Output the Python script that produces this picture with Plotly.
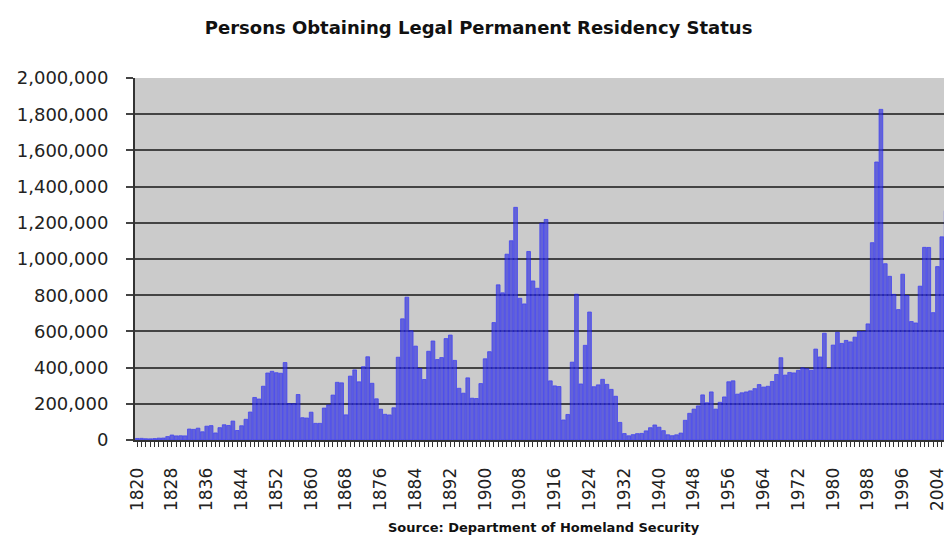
import plotly.graph_objects as go

years = list(range(1820, 2007))
persons = [
    8385, 9127, 6911, 6354, 7912, 10199, 10837, 18875, 27382, 22520,
    23322, 22633, 60482, 58640, 65365, 45374, 76242, 79340, 38914, 68069,
    84066, 80289, 104565, 52496, 78615, 114371, 154416, 234968, 226527, 297024,
    369980, 379466, 371603, 368645, 427833, 200877, 200436, 251306, 123126, 121282,
    153640, 91918, 91985, 176282, 193418, 248120, 318568, 315722, 138840, 352768,
    387203, 321350, 404806, 459803, 313339, 227498, 169986, 141857, 138469, 177826,
    457257, 669431, 788992, 603322, 518592, 395346, 334203, 490109, 546889, 444427,
    455302, 560319, 579663, 439730, 285631, 258536, 343267, 230832, 229299, 311715,
    448572, 487918, 648743, 857046, 812870, 1026499, 1100735, 1285349, 782870, 751786,
    1041570, 878587, 838172, 1197892, 1218480, 326700, 298826, 295403, 110618, 141132,
    430001, 805228, 309556, 522919, 706896, 294314, 304488, 335175, 307255, 279678,
    241700, 97139, 35576, 23068, 29470, 34956, 36329, 50244, 67895, 82998,
    70756, 51776, 28781, 23725, 28551, 38119, 108721, 147292, 170570, 188317,
    249187, 205717, 265520, 170434, 208177, 237790, 321625, 326867, 253265, 260686,
    265398, 271344, 283763, 306260, 292248, 296697, 323040, 361972, 454448, 358579,
    373326, 370478, 384685, 398515, 393919, 385378, 502289, 458755, 589810, 394244,
    524295, 595014, 533624, 550052, 541811, 568149, 600027, 599889, 641346, 1090172,
    1535872, 1826595, 973977, 904292, 804416, 720461, 915900, 798378, 654451, 646568,
    849807, 1064318, 1063732, 703542, 957883, 1122257, 1266264,
]

title_text = "Persons Obtaining Legal Permanent Residency Status"
source_text = "Source: Department of Homeland Security"
y_ticks = list(range(0, 2000001, 200000))

fig = go.Figure(
    go.Bar(
        x=years,
        y=persons,
        opacity=0.72,
        marker=dict(color="rgb(60,60,222)", line=dict(color="#1010ff", width=0.8)),
    )
)

fig.update_layout(
    width=944,
    height=540,
    margin=dict(l=135, r=0, t=78, b=100, autoexpand=False),
    paper_bgcolor="white",
    plot_bgcolor="#cbcbcb",
    bargap=0.15,
    showlegend=False,
    font=dict(family="DejaVu Sans, Verdana, sans-serif", color="#222222"),
    title=dict(
        text="<b>" + title_text + "</b>",
        x=0.507,
        xanchor="center",
        y=0.948,
        yanchor="middle",
        font=dict(size=18, color="#111111"),
    ),
    annotations=[
        dict(
            text="<b>" + source_text + "</b>",
            xref="paper",
            yref="paper",
            x=0.506,
            y=-0.243,
            xanchor="center",
            yanchor="middle",
            showarrow=False,
            font=dict(size=13, color="#111111"),
        )
    ],
)

fig.update_xaxes(
    range=[1819.5, 2005.5],
    automargin=False,
    tickmode="linear",
    tick0=1820,
    dtick=8,
    tickangle=-90,
    ticks="outside",
    ticklen=5,
    tickcolor="#333333",
    tickfont=dict(size=17, color="#222222"),
    ticklabelstandoff=14,
    ticklabeloverflow="allow",
    minor=dict(dtick=1, tick0=1820, ticks="outside", ticklen=5, tickcolor="#333333", showgrid=False),
    showgrid=False,
    showline=True,
    linecolor="#333333",
    linewidth=2,
    zeroline=False,
)

fig.update_yaxes(
    range=[0, 2000000],
    automargin=False,
    tickmode="array",
    tickvals=y_ticks,
    ticktext=[f"{v:,}" for v in y_ticks],
    ticks="outside",
    ticklen=7,
    tickwidth=2,
    tickcolor="#444444",
    tickfont=dict(size=18, color="#222222"),
    ticklabelstandoff=14,
    showgrid=True,
    gridcolor="#444444",
    gridwidth=2,
    showline=True,
    linecolor="#333333",
    linewidth=2,
    zeroline=False,
    mirror=False,
)

fig.write_html(
    "out.html",
    config={"displayModeBar": False},
    post_script="document.body.style.margin='0';document.body.style.overflow='hidden';",
)
